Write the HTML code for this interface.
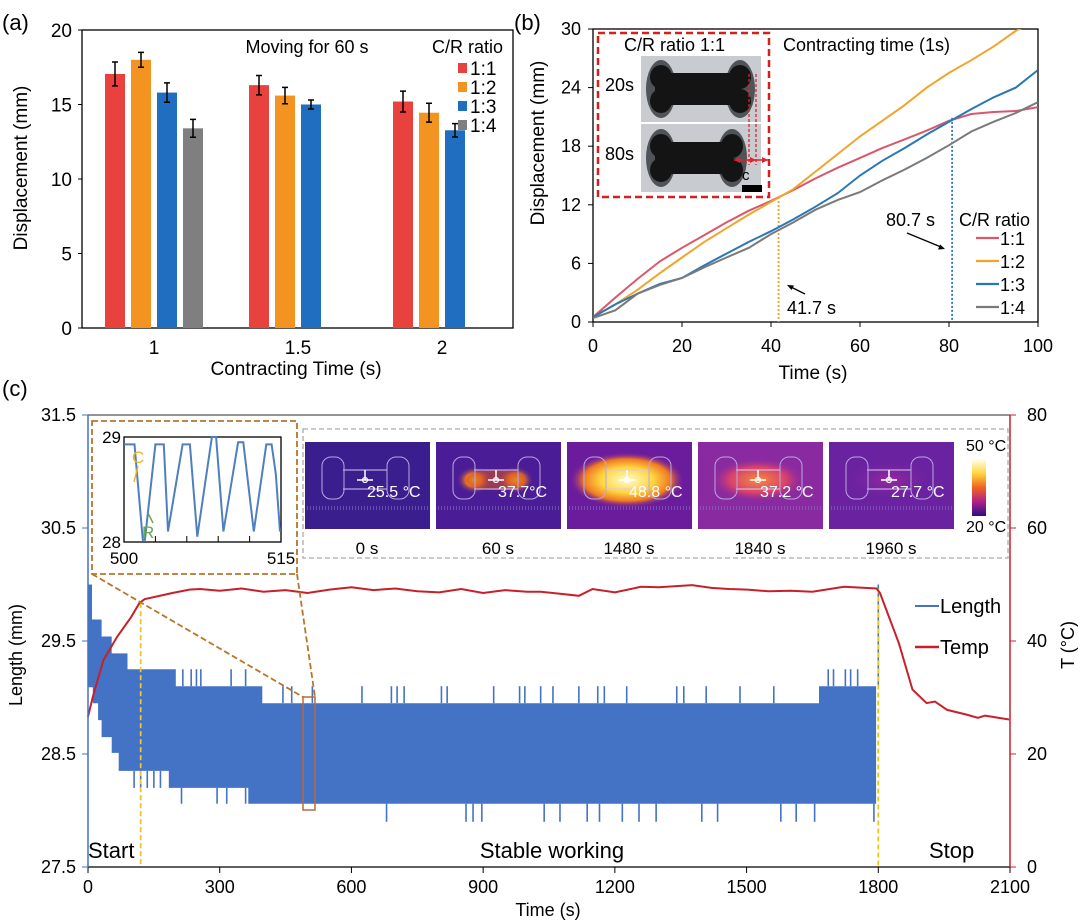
<!DOCTYPE html>
<html><head><meta charset="utf-8"><style>
html,body{margin:0;padding:0;background:#fff;}
svg{display:block;font-family:"Liberation Sans",Arial,sans-serif;}
</style></head><body>
<svg id="fig" width="1080" height="920" viewBox="0 0 1080 920" xmlns="http://www.w3.org/2000/svg">
<defs>
<radialGradient id="hot60" cx="0.5" cy="0.5" r="0.5"><stop offset="0" stop-color="#ffd43a"/><stop offset="0.45" stop-color="#f47a1f"/><stop offset="1" stop-color="#4a1c96" stop-opacity="0"/></radialGradient>
<radialGradient id="hot1480" cx="0.5" cy="0.5" r="0.5"><stop offset="0" stop-color="#fffbd0"/><stop offset="0.45" stop-color="#ffd640"/><stop offset="0.75" stop-color="#f07a22"/><stop offset="1" stop-color="#7a1aa0" stop-opacity="0"/></radialGradient>
<radialGradient id="hot1840" cx="0.5" cy="0.5" r="0.5"><stop offset="0" stop-color="#f58a3a"/><stop offset="0.6" stop-color="#d8406e"/><stop offset="1" stop-color="#8a2aa0" stop-opacity="0"/></radialGradient>
<radialGradient id="hot1960" cx="0.5" cy="0.5" r="0.5"><stop offset="0" stop-color="#9a2a9c"/><stop offset="1" stop-color="#6a22a0" stop-opacity="0"/></radialGradient>
<linearGradient id="cbar" x1="0" y1="0" x2="0" y2="1"><stop offset="0" stop-color="#fffff0"/><stop offset="0.25" stop-color="#ffd640"/><stop offset="0.5" stop-color="#f0641e"/><stop offset="0.75" stop-color="#b0208a"/><stop offset="1" stop-color="#2a1080"/></linearGradient>
<clipPath id="clipB"><rect x="593" y="29" width="445" height="293"/></clipPath>
<clipPath id="clipI"><rect x="124" y="436" width="158" height="107"/></clipPath>
</defs>

<!-- ===== Panel (a) ===== -->
<g id="panelA">
<text x="2" y="30" font-size="22">(a)</text>
<rect x="82" y="30" width="431" height="298" fill="none" stroke="#000" stroke-width="1.3"/>
<g id="aYTicks" font-size="19" text-anchor="end"></g>
<g id="aXTicks" font-size="19" text-anchor="middle"></g>
<g id="aBars"></g>
<text x="296" y="375" font-size="19" text-anchor="middle">Contracting Time (s)</text>
<text transform="translate(27,168) rotate(-90)" font-size="19" text-anchor="middle">Displacement (mm)</text>
<text x="307" y="53" font-size="18" text-anchor="middle">Moving for 60 s</text>
<text x="432" y="53" font-size="18">C/R ratio</text>
<g id="aLegend" font-size="19"></g>
</g>

<!-- ===== Panel (b) ===== -->
<g id="panelB">
<text x="514" y="30" font-size="22">(b)</text>
<rect x="593" y="29" width="445" height="293" fill="none" stroke="#000" stroke-width="1.3"/>
<g id="bYTicks" font-size="18" text-anchor="end"></g>
<g id="bXTicks" font-size="18" text-anchor="middle"></g>
<text x="813" y="379" font-size="19" text-anchor="middle">Time (s)</text>
<text transform="translate(544,143) rotate(-90)" font-size="19" text-anchor="middle">Displacement (mm)</text>
<g id="bRefLines"></g>
<g id="bLines" clip-path="url(#clipB)"></g>
<text x="783" y="51" font-size="18">Contracting time (1s)</text>
<!-- inset photo -->
<g>
<rect x="641" y="56" width="120" height="66" fill="#c8ccd1"/>
<rect x="641" y="124" width="120" height="68" fill="#c8ccd1"/>
<g fill="#505458">
<ellipse cx="661" cy="89" rx="15" ry="29"/><ellipse cx="740" cy="89" rx="15" ry="29"/>
<ellipse cx="661" cy="158" rx="15" ry="29"/><ellipse cx="732" cy="158" rx="15" ry="29"/>
</g>
<g fill="#141414">
<ellipse cx="661" cy="77" rx="11" ry="12"/><ellipse cx="661" cy="101" rx="11" ry="12"/>
<rect x="655" y="73" width="86" height="32"/>
<ellipse cx="740" cy="77" rx="11" ry="12"/><ellipse cx="740" cy="101" rx="11" ry="12"/>
<ellipse cx="661" cy="146" rx="11" ry="12"/><ellipse cx="661" cy="170" rx="11" ry="12"/>
<rect x="655" y="142" width="78" height="32"/>
<ellipse cx="732" cy="146" rx="11" ry="12"/><ellipse cx="732" cy="170" rx="11" ry="12"/>
</g>
<line x1="749" y1="74" x2="749" y2="165" stroke="#e0202a" stroke-width="1.3" stroke-dasharray="3,2"/>
<line x1="756" y1="74" x2="756" y2="165" stroke="#e0202a" stroke-width="1.3" stroke-dasharray="3,2"/>
<line x1="734" y1="160" x2="768" y2="160" stroke="#e0202a" stroke-width="1.5"/>
<path d="M734,160 l6,-3 v6z M756,160 l-6,-3 v6z M768,160 l-6,-3 v6z" fill="#e0202a"/>
<rect x="742" y="185" width="20" height="7" fill="#000"/>
<text x="742" y="180" font-size="15">c</text>
<text x="605" y="91" font-size="18">20s</text>
<text x="605" y="160" font-size="18">80s</text>
</g>
<rect x="598" y="33" width="171" height="164" fill="none" stroke="#d62020" stroke-width="2.5" stroke-dasharray="7,4"/>
<text x="624" y="51" font-size="18">C/R ratio 1:1</text>
<text x="787" y="314" font-size="18">41.7 s</text>
<line x1="805" y1="294" x2="789" y2="286" stroke="#000" stroke-width="1.3"/>
<path d="M787,285 l7,0.5 l-2.5,4.5z" fill="#000"/>
<text x="886" y="226" font-size="18">80.7 s</text>
<line x1="907" y1="233" x2="941" y2="247" stroke="#000" stroke-width="1.3"/>
<path d="M945,249 l-7,0.5 l2.2,-5z" fill="#000"/>
<text x="959" y="226" font-size="18">C/R ratio</text>
<g id="bLegend" font-size="18"></g>
</g>

<!-- ===== Panel (c) ===== -->
<g id="panelC">
<text x="2" y="396" font-size="22">(c)</text>
<line x1="88" y1="415" x2="1010" y2="415" stroke="#555" stroke-width="1.3"/>
<g id="cBand"></g>
<g id="cTemp"></g>
<g id="cAxes"></g>
<text x="88" y="858" font-size="22">Start</text>
<text x="552" y="858" font-size="22" text-anchor="middle">Stable working</text>
<text x="929" y="858" font-size="22">Stop</text>
<text x="548" y="916" font-size="18" text-anchor="middle">Time (s)</text>
<text transform="translate(22,655) rotate(-90)" font-size="18" text-anchor="middle">Length (mm)</text>
<text transform="translate(1074,645) rotate(-90)" font-size="18" text-anchor="middle">T (°C)</text>
<g font-size="20">
<line x1="915" y1="606" x2="939" y2="606" stroke="#4472c4" stroke-width="2"/>
<text x="940" y="613">Length</text>
<line x1="915" y1="647" x2="939" y2="647" stroke="#c8202a" stroke-width="2.5"/>
<text x="940" y="654">Temp</text>
</g>
<!-- zoom inset -->
<rect x="92" y="421" width="205" height="153" fill="#fff" stroke="#b8752a" stroke-width="1.8" stroke-dasharray="6,3"/>
<rect x="303" y="697" width="12" height="113" fill="none" stroke="#b86a3a" stroke-width="1.5"/>
<line x1="92" y1="574" x2="303" y2="697" stroke="#b8752a" stroke-width="1.8" stroke-dasharray="6,3"/>
<line x1="297" y1="574" x2="315" y2="697" stroke="#b8752a" stroke-width="1.8" stroke-dasharray="6,3"/>
<rect x="124" y="437" width="157" height="105" fill="none" stroke="#000" stroke-width="1.3"/>
<g id="cInset"></g>
<text x="121" y="443" font-size="17" text-anchor="end">29</text>
<text x="121" y="548" font-size="17" text-anchor="end">28</text>
<text x="124" y="564" font-size="17" text-anchor="middle">500</text>
<text x="281" y="564" font-size="17" text-anchor="middle">515</text>
<text x="132" y="463" font-size="17" fill="#f2b21e">C</text>
<line x1="138" y1="466" x2="134" y2="482" stroke="#f2b21e" stroke-width="1.5"/>
<text x="142" y="538" font-size="17" fill="#6aa84f">R</text>
<line x1="153" y1="523" x2="148" y2="513" stroke="#6aa84f" stroke-width="1.5"/>
<!-- thermal images -->
<rect x="303" y="429" width="705" height="129" fill="#fff" stroke="#aaa" stroke-width="1.3" stroke-dasharray="5,3"/>
<g id="thermal"></g>
<rect x="972" y="459" width="14" height="57" fill="url(#cbar)"/>
<text x="966" y="451" font-size="16">50 °C</text>
<text x="966" y="532" font-size="16">20 °C</text>
</g>
</svg>
<script>
var NS='http://www.w3.org/2000/svg';
function mk(tag,attrs,parent){var e=document.createElementNS(NS,tag);for(var k in attrs)e.setAttribute(k,attrs[k]);parent.appendChild(e);return e;}

/* ---------- Panel (a) data ---------- */
var aCategories=['1','1.5','2'];
var aSeriesNames=['1:1','1:2','1:3','1:4'];
var aColors=['#e8413e','#f39422','#1f6ebf','#7f7f7f'];
var aVal11=[17.05,16.3,15.2];
var aVal12=[18.0,15.6,14.45];
var aVal13=[15.8,15.0,13.27];
var aVal14=[13.4,null,null];
var aErr11=[0.8,0.65,0.7];
var aErr12=[0.5,0.55,0.63];
var aErr13=[0.65,0.3,0.45];
var aErr14=[0.6,null,null];
var aYTickVals=[0,5,10,15,20];

/* ---------- Panel (b) data ---------- */
var bTime=[0,5,10,15,20,25,30,35,40,45,50,55,60,65,70,75,80,85,90,95,100];
var b11=[0.5,2.5,4.4,6.2,7.6,8.9,10.2,11.4,12.4,13.5,14.7,15.8,16.8,17.8,18.7,19.6,20.6,21.3,21.5,21.6,22.0];
var b12=[0.5,1.8,3.3,5.0,6.6,8.2,9.6,11.0,12.3,13.6,15.4,17.2,19.0,20.6,22.2,24.0,25.5,26.8,28.2,29.8,31.0];
var b13=[0.5,1.8,2.9,3.9,4.5,5.8,7.0,8.2,9.3,10.5,11.8,13.2,15.0,16.5,17.8,19.2,20.5,21.8,23.0,24.0,25.8];
var b14=[0.4,1.2,2.9,3.8,4.5,5.6,6.6,7.6,9.0,10.2,11.5,12.5,13.3,14.5,15.6,16.8,18.1,19.5,20.5,21.4,22.5];
var bNames=['1:1','1:2','1:3','1:4'];
var bColors=['#d8576b','#f0a52a','#2a77b5','#7a7a7a'];
var bYTickVals=[0,6,12,18,24,30];
var bXTickVals=[0,20,40,60,80,100];
var bMarkT=[41.7,80.7];
var bMarkV=[12.8,20.9];

/* ---------- Panel (c) data ---------- */
var cUpT=[0,9,31,54,90,200,397,1665];
var cUpV=[30.0,29.69,29.54,29.39,29.25,29.1,28.95,29.1];
var cLoT=[0,11,23,31,54,70,184,365];
var cLoV=[29.09,28.95,28.8,28.65,28.51,28.35,28.2,28.06];
var cEndT=1795;
var cUpSpikeT=[216,235,247,257,326,359,444,464,511,624,691,704,720,805,818,924,983,995,1031,1059,1118,1161,1176,1227,1341,1357,1408,1485,1562,1686,1698,1725,1737,1753,1800];
var cUpSpikeV=[29.25,29.25,29.25,29.25,29.25,29.25,29.1,29.1,29.1,29.1,29.1,29.1,29.1,29.1,29.1,29.1,29.1,29.1,29.1,29.1,29.1,29.1,29.1,29.1,29.1,29.1,29.1,29.1,29.1,29.25,29.25,29.25,29.25,29.25,30.0];
var cDnSpikeT=[105,120,135,150,165,213,294,316,359,680,861,877,897,1039,1075,1137,1165,1217,1255,1294,1398,1434,1578,1613,1655,1790];
var cDnSpikeV=[28.2,28.2,28.2,28.2,28.2,28.06,28.06,28.06,28.06,27.9,27.9,27.9,27.9,27.9,27.9,27.9,27.9,27.9,27.9,27.9,27.9,27.9,27.9,27.9,27.9,27.9];
var cTempT=[0,11,35,66,98,117,129,192,231,255,300,350,400,450,500,550,600,650,700,750,800,850,900,950,1000,1031,1070,1118,1149,1200,1259,1300,1376,1420,1460,1502,1550,1600,1650,1722,1796,1804,1847,1878,1910,1929,1957,2000,2027,2043,2098];
var cTempV=[26.6,30.1,36.6,40.7,44.2,46.7,47.4,48.5,49.1,49.2,48.9,49.3,48.7,49.0,48.5,49.1,49.5,49.0,49.3,48.8,48.6,49.2,48.5,49.0,48.7,48.7,48.4,48.0,49.2,48.6,49.6,49.5,49.9,49.4,49.2,49.1,48.8,48.9,48.7,49.6,49.3,48.5,39.6,31.4,29.0,29.3,27.8,27.0,26.4,26.8,26.1];
var cXTickVals=[0,300,600,900,1200,1500,1800,2100];
var cYLTickVals=[27.5,28.5,29.5,30.5,31.5];
var cYRTickVals=[0,20,40,60,80];
var cPhaseT=[120,1800];
var cInsetT=[500,500.3,501.0,501.8,502.0,503.0,503.8,504.2,505.6,506.3,507.0,508.4,508.8,509.5,510.9,511.4,512.4,513.6,514.1,514.5,514.9];
var cInsetV=[28.93,28.93,28.93,28.02,28.02,28.93,28.93,28.1,28.93,28.93,28.05,29.0,29.0,28.1,28.95,28.95,28.1,28.93,28.93,28.65,28.1];
var thermalLabels=['0 s','60 s','1480 s','1840 s','1960 s'];
var thermalTemps=['25.5 °C','37.7°C','48.8 °C','37.2 °C','27.7 °C'];

/* ---------- axis functions ---------- */
function xa(i,j){return 82+i*144+23+j*26;}
function ya(v){return 328-v*14.9;}
function xb(t){return 593+t*4.45;}
function yb(v){return 322-v*9.767;}
function xc(t){return 88+t*0.43905;}
function yl(v){return 867-(v-27.5)*113;}
function yr(T){return 867-T*5.65;}
function xi(t){return 124+(t-500)*(157/15);}
function yi(v){return 542-(v-28)*105;}

/* ---------- draw (a) ---------- */
(function(){
var g=document.getElementById('aYTicks');
aYTickVals.forEach(function(v){
 var t=mk('text',{x:72,y:ya(v)+7},g);t.textContent=v;
 
 
 var l=mk('line',{x1:78,x2:82,y1:ya(v),y2:ya(v),stroke:'#000'},g);
 
 
});
var gx=document.getElementById('aXTicks');
aCategories.forEach(function(c,i){
 var t=mk('text',{x:82+i*144+72,y:354},gx);t.textContent=c;
 
 
});
var vals=[aVal11,aVal12,aVal13,aVal14],errs=[aErr11,aErr12,aErr13,aErr14];
var gb=document.getElementById('aBars');
for(var i=0;i<aCategories.length;i++){for(var j=0;j<4;j++){
 var v=vals[j][i];if(v===null)continue;
 var r=mk('rect',{x:xa(i,j),y:ya(v),width:20,height:ya(0)-ya(v),fill:aColors[j]},gb);
 
 
 var e=errs[j][i],cx=xa(i,j)+10;
 var p=mk('path',{d:'M'+cx+','+ya(v+e)+'V'+ya(v-e)+'M'+(cx-3)+','+ya(v+e)+'h6M'+(cx-3)+','+ya(v-e)+'h6',stroke:'#000','stroke-width':1.5,fill:'none'},gb);
 
 
}}
var gl=document.getElementById('aLegend');
aSeriesNames.forEach(function(n,j){
 var yy=68+j*19;
 var s=mk('rect',{x:458,y:yy-5,width:9,height:10,fill:aColors[j]},gl);
 
 
 var t=mk('text',{x:470,y:yy+7},gl);t.textContent=n;
 
 
});
})();

/* ---------- draw (b) ---------- */
(function(){
var g=document.getElementById('bYTicks');
bYTickVals.forEach(function(v){
 var t=mk('text',{x:581,y:yb(v)+6},g);t.textContent=v;
 
 
 var l=mk('line',{x1:588,x2:593,y1:yb(v),y2:yb(v),stroke:'#000'},g);
 
 
});
var gx=document.getElementById('bXTicks');
bXTickVals.forEach(function(v){
 var t=mk('text',{x:xb(v),y:352},gx);t.textContent=v;
 
 
 var l=mk('line',{x1:xb(v),x2:xb(v),y1:322,y2:327,stroke:'#000'},gx);
 
 
});
var gr=document.getElementById('bRefLines');
var refCols=['#e7a42a','#2a77b5'];
bMarkT.forEach(function(t,i){
 var l=mk('line',{x1:xb(t),x2:xb(t),y1:yb(bMarkV[i]),y2:322,stroke:refCols[i],'stroke-width':1.8,'stroke-dasharray':'2,2'},gr);
 
 
});
var series=[b11,b12,b13,b14];
var gl=document.getElementById('bLines');
series.forEach(function(s,k){
 var pts=s.map(function(v,i){return xb(bTime[i]).toFixed(1)+','+yb(v).toFixed(1);}).join(' ');
 var pl=mk('polyline',{points:pts,fill:'none',stroke:bColors[k],'stroke-width':2},gl);
 
 
});
var lg=document.getElementById('bLegend');
bNames.forEach(function(n,k){
 var yy=238+k*23;
 var l=mk('line',{x1:976,x2:999,y1:yy,y2:yy,stroke:bColors[k],'stroke-width':2.2},lg);
 
 
 var t=mk('text',{x:1000,y:yy+7},lg);t.textContent=n;
 
 
});
})();

/* ---------- draw (c) ---------- */
(function(){
var g=document.getElementById('cBand');
function stepPts(T,V,end){
 var p=[];for(var i=0;i<T.length;i++){var t1=(i+1<T.length)?T[i+1]:end;p.push([xc(T[i]),yl(V[i])]);p.push([xc(t1),yl(V[i])]);}
 return p;
}
var up=stepPts(cUpT,cUpV,cEndT),lo=stepPts(cLoT,cLoV,cEndT).reverse();
var pts=up.concat(lo).map(function(p){return p[0].toFixed(1)+','+p[1].toFixed(1);}).join(' ');
var band=mk('polygon',{points:pts,fill:'#4472c4'},g);


function curVal(T,V,t){var v=V[0];for(var i=0;i<T.length;i++)if(T[i]<=t)v=V[i];return v;}
cUpSpikeT.forEach(function(t,i){
 var l=mk('line',{x1:xc(t),x2:xc(t),y1:yl(Math.min(curVal(cUpT,cUpV,t),cUpSpikeV[i])),y2:yl(cUpSpikeV[i]),stroke:'#4472c4','stroke-width':1.6},g);
 
 
});
cDnSpikeT.forEach(function(t,i){
 var l=mk('line',{x1:xc(t),x2:xc(t),y1:yl(curVal(cLoT,cLoV,t)),y2:yl(cDnSpikeV[i]),stroke:'#4472c4','stroke-width':1.6},g);
 
 
});
var gt=document.getElementById('cTemp');
cPhaseT.forEach(function(t){
 var T=curVal(cTempT,cTempV,t);
 var l=mk('line',{x1:xc(t),x2:xc(t),y1:yr(T),y2:867,stroke:'#f2c618','stroke-width':1.8,'stroke-dasharray':'5,3'},gt);
 
 
});
var tp=cTempT.map(function(t,i){return xc(t).toFixed(1)+','+yr(cTempV[i]).toFixed(1);}).join(' ');
var tl=mk('polyline',{points:tp,fill:'none',stroke:'#c8202a','stroke-width':2},gt);



var ga=document.getElementById('cAxes');
var ax=mk('line',{x1:88,x2:1010,y1:867,y2:867,stroke:'#000','stroke-width':1.3},ga);


var lax=mk('line',{x1:88,x2:88,y1:415,y2:867,stroke:'#4472c4','stroke-width':1.5},ga);


var rax=mk('line',{x1:1010,x2:1010,y1:415,y2:867,stroke:'#c8202a','stroke-width':1.5},ga);


cXTickVals.forEach(function(v){
 var l=mk('line',{x1:xc(v),x2:xc(v),y1:867,y2:873,stroke:'#000'},ga);
 
 
 var t=mk('text',{x:xc(v),y:893,'font-size':18,'text-anchor':'middle'},ga);t.textContent=v;
 
 
});
cYLTickVals.forEach(function(v){
 var l=mk('line',{x1:82,x2:88,y1:yl(v),y2:yl(v),stroke:'#4472c4'},ga);
 
 
 var t=mk('text',{x:76,y:yl(v)+6,'font-size':18,'text-anchor':'end'},ga);t.textContent=v.toFixed(1);
 
 
});
cYRTickVals.forEach(function(v){
 var l=mk('line',{x1:1010,x2:1016,y1:yr(v),y2:yr(v),stroke:'#c8202a'},ga);
 
 
 var t=mk('text',{x:1027,y:yr(v)+6,'font-size':18},ga);t.textContent=v;
 
 
});

var gi=document.getElementById('cInset');
var ip=cInsetT.map(function(t,i){return xi(t).toFixed(1)+','+yi(cInsetV[i]).toFixed(1);}).join(' ');
var il=mk('polyline',{points:ip,fill:'none',stroke:'#4f7fbf','stroke-width':2,'clip-path':'url(#clipI)'},gi);


for(var k=0;k<=5;k++){
 var tk=mk('line',{x1:124+k*157/5,x2:124+k*157/5,y1:542,y2:536,stroke:'#000'},gi);
 
 
}

/* thermal images */
var gth=document.getElementById('thermal');
var bgs=['#3a1e8e','#4a1d96','#6a1c9c','#8a2aa0','#6a22a0'];
var hots=[null,'url(#hot60)','url(#hot1480)','url(#hot1840)','url(#hot1960)'];
var xs=[305,436,567,698,829];
thermalLabels.forEach(function(lab,i){
 var x0=xs[i],y0=442;
 var grp=mk('g',{},gth);
 
 
 mk('rect',{x:x0,y:y0,width:125,height:87,fill:bgs[i]},grp);
 if(hots[i]){
  if(i===1){mk('ellipse',{cx:x0+38,cy:y0+38,rx:18,ry:14,fill:hots[i]},grp);mk('ellipse',{cx:x0+80,cy:y0+38,rx:18,ry:14,fill:hots[i]},grp);mk('ellipse',{cx:x0+60,cy:y0+38,rx:30,ry:10,fill:'#d0502a','opacity':0.6},grp);}
  else mk('ellipse',{cx:x0+60,cy:y0+38,rx:i===2?58:48,ry:i===2?28:22,fill:hots[i]},grp);
 }
 mk('path',{d:'M'+(x0+38)+','+(y0+28)+'h44M'+(x0+38)+','+(y0+47)+'h44',stroke:'#d8c8f0','stroke-width':1,fill:'none'},grp);
 mk('rect',{x:x0+17,y:y0+15,width:22,height:42,rx:9,fill:'none',stroke:'#b8a8e0','stroke-width':1},grp);
 mk('rect',{x:x0+82,y:y0+15,width:22,height:42,rx:9,fill:'none',stroke:'#b8a8e0','stroke-width':1},grp);
 mk('path',{d:'M'+(x0+60)+','+(y0+28)+'v10M'+(x0+52)+','+(y0+38)+'h16',stroke:'#fff','stroke-width':1.5},grp);
 mk('circle',{cx:x0+60,cy:y0+38,r:2.5,fill:'none',stroke:'#fff','stroke-width':1.2},grp);
 mk('line',{x1:x0+2,x2:x0+123,y1:y0+66,y2:y0+66,stroke:'#8070c0','stroke-width':4,'stroke-dasharray':'1,2',opacity:0.6},grp);
 var tt=mk('text',{x:x0+62,y:y0+55,'font-size':16,fill:'#fff'},grp);tt.textContent=thermalTemps[i];
 
 
 var tl2=mk('text',{x:x0+62,y:554,'font-size':17,'text-anchor':'middle'},gth);tl2.textContent=lab;
 
 
});
})();
</script>
</body></html>
